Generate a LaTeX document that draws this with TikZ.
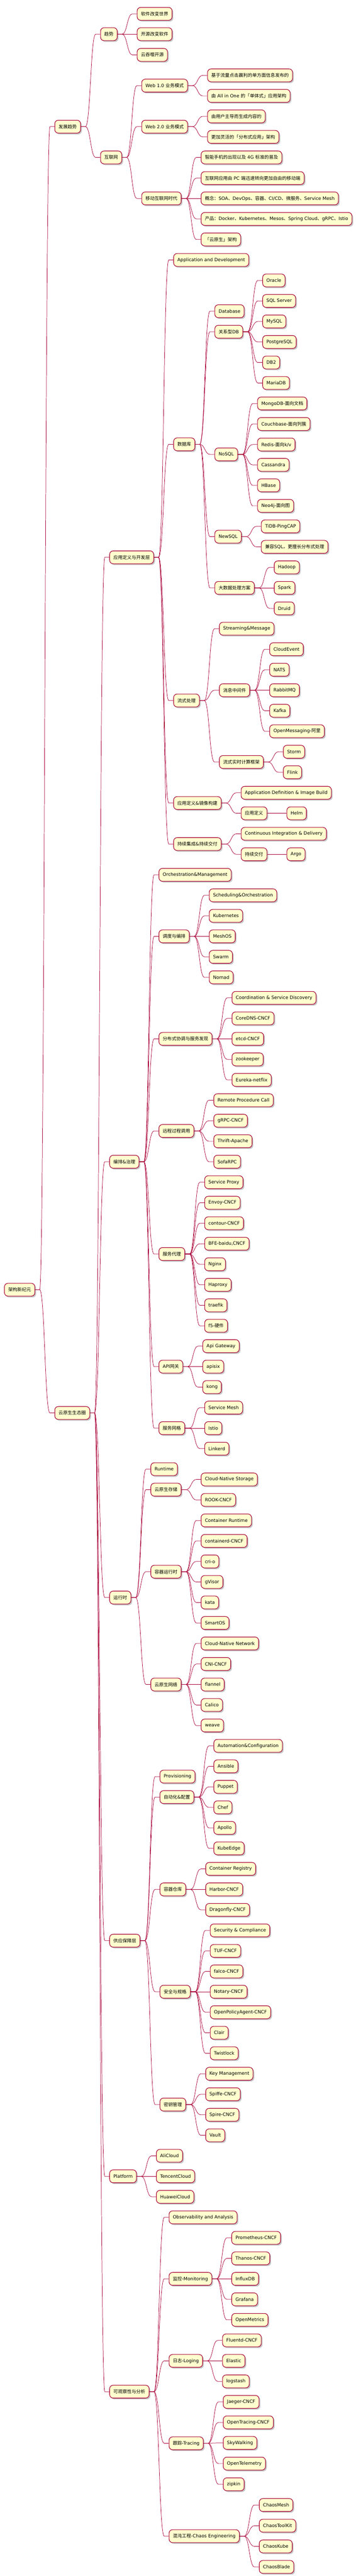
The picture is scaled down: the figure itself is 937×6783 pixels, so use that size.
\documentclass[tikz,border=0pt]{standalone}
\usepackage{fontspec}
\setmainfont{DejaVu Sans}
\newfontfamily\cjk{Noto Sans CJK SC}
\usetikzlibrary{shadows}
\definecolor{nodefill}{RGB}{254,254,206}
\definecolor{hilight}{RGB}{168,0,54}

% switch to the CJK font for Chinese characters and punctuation
\XeTeXinterchartokenstate=1
\chardef\cjkcls=7
\count255="3000
\loop\ifnum\count255<"3040 \XeTeXcharclass\count255=\cjkcls \advance\count255 by 1 \repeat
\count255="4E00
\loop\ifnum\count255<"A000 \XeTeXcharclass\count255=\cjkcls \advance\count255 by 1 \repeat
\count255="FF00
\loop\ifnum\count255<"FFF0 \XeTeXcharclass\count255=\cjkcls \advance\count255 by 1 \repeat
\XeTeXinterchartoks 0 \cjkcls = {\cjk}
\XeTeXinterchartoks 4095 \cjkcls = {\cjk}
\XeTeXinterchartoks \cjkcls 0 = {\rmfamily}
\XeTeXinterchartoks \cjkcls 4095 = {\rmfamily}

% child node: name, parent, row (px from top), text
\newcommand{\mm}[4]{%
  \path (#2.east) ++(38.25pt,0) coordinate (#1-at);
  \node [block, anchor=west] (#1) at (#1-at |- 0,#3) {#4};
  \path [line] (#2.east) -- ++(9pt,0) .. controls +(10.125pt,0) and ([xshift=-19.125pt]#1.west) .. ([xshift=-9pt]#1.west) -- (#1.west);
}

\begin{document}
\begin{tikzpicture}[x=0.75pt, y=-0.75pt]
\tikzstyle{block} = [rectangle, draw=hilight, line width=1.1pt, fill=nodefill, text=black,
    rounded corners=7pt, minimum height=25.5pt, inner xsep=7.5pt, inner ysep=2pt,
    font=\fontsize{9pt}{11pt}\selectfont,
    drop shadow={shadow xshift=2.5pt, shadow yshift=-2.5pt, fill=black, opacity=0.22}]
\tikzstyle{line} = [draw=hilight, line width=0.75pt]
\useasboundingbox (0,0) rectangle (937,6783);

    % root
    \node [block, anchor=west] (root) at (11,3396) {架构新纪元};

    % history
    \mm{dev}{root}{333.5}{发展趋势}
    \mm{trend}{dev}{90}{趋势}
    \mm{trend1}{trend}{36.5}{软件改变世界}
    \mm{trend2}{trend}{90}{开源改变软件}
    \mm{trend3}{trend}{144.5}{云吞噬开源}
    \mm{net}{dev}{414.5}{互联网}
    \mm{web1}{net}{225.5}{Web 1.0 业务模式}
    \mm{web1a}{web1}{198.5}{基于流量点击赢利的单方面信息发布的}
    \mm{web1b}{web1}{252.5}{由 All in One 的「单体式」应用架构}
    \mm{web2}{net}{333.5}{Web 2.0 业务模式}
    \mm{web2a}{web2}{306.5}{由用户主导而生成内容的}
    \mm{web2b}{web2}{360.5}{更加灵活的「分布式应用」架构}
    \mm{mobile}{net}{522.5}{移动互联网时代}
    \mm{mobile1}{mobile}{414.5}{智能手机的出现以及 4G 标准的普及}
    \mm{mobile2}{mobile}{469}{互联网应用由 PC 端迅速转向更加自由的移动端}
    \mm{mobile3}{mobile}{522.5}{概念：SOA、DevOps、容器、CI/CD、微服务、Service Mesh}
    \mm{mobile4}{mobile}{576.5}{产品：Docker、Kubernetes、Mesos、Spring Cloud、gRPC、Istio}
    \mm{mobile5}{mobile}{630.5}{「云原生」架构}

    % ecosystem
    \mm{eco}{root}{3720.5}{云原生生态圈}

    % application layer
    \mm{app}{eco}{1467.5}{应用定义与开发层}
    \mm{apphead}{app}{684.5}{Application and Development}
    \mm{db}{app}{1170}{数据库}
    \mm{dbhead}{db}{819.5}{Database}
    \mm{rdb}{db}{873.5}{关系型DB}
    \mm{rdb1}{rdb}{738.5}{Oracle}
    \mm{rdb2}{rdb}{792.5}{SQL Server}
    \mm{rdb3}{rdb}{846.5}{MySQL}
    \mm{rdb4}{rdb}{900.5}{PostgreSQL}
    \mm{rdb5}{rdb}{954.5}{DB2}
    \mm{rdb6}{rdb}{1008.5}{MariaDB}
    \mm{nosql}{db}{1196.5}{NoSQL}
    \mm{nosql1}{nosql}{1062.5}{MongoDB-面向文档}
    \mm{nosql2}{nosql}{1116.5}{Couchbase-面向列簇}
    \mm{nosql3}{nosql}{1170.5}{Redis-面向k/v}
    \mm{nosql4}{nosql}{1224}{Cassandra}
    \mm{nosql5}{nosql}{1278}{HBase}
    \mm{nosql6}{nosql}{1332}{Neo4j-面向图}
    \mm{newsql}{db}{1413}{NewSQL}
    \mm{newsql1}{newsql}{1386}{TiDB-PingCAP}
    \mm{newsql2}{newsql}{1440}{兼容SQL，更擅长分布式处理}
    \mm{bigdata}{db}{1548}{大数据处理方案}
    \mm{bigdata1}{bigdata}{1494}{Hadoop}
    \mm{bigdata2}{bigdata}{1548}{Spark}
    \mm{bigdata3}{bigdata}{1602}{Druid}
    \mm{stream}{app}{1844.5}{流式处理}
    \mm{streamhead}{stream}{1655.5}{Streaming\&Message}
    \mm{mq}{stream}{1817.5}{消息中间件}
    \mm{mq1}{mq}{1709.5}{CloudEvent}
    \mm{mq2}{mq}{1763.5}{NATS}
    \mm{mq3}{mq}{1817.5}{RabbitMQ}
    \mm{mq4}{mq}{1871.5}{Kafka}
    \mm{mq5}{mq}{1925.5}{OpenMessaging-阿里}
    \mm{calc}{stream}{2006.5}{流式实时计算框架}
    \mm{calc1}{calc}{1979.5}{Storm}
    \mm{calc2}{calc}{2033.5}{Flink}
    \mm{image}{app}{2114.5}{应用定义\&镜像构建}
    \mm{imagehead}{image}{2087.5}{Application Definition \& Image Build}
    \mm{appdef}{image}{2141.5}{应用定义}
    \mm{helm}{appdef}{2141.5}{Helm}
    \mm{cicd}{app}{2222.5}{持续集成\&持续交付}
    \mm{cicdhead}{cicd}{2195.5}{Continuous Integration \& Delivery}
    \mm{cd}{cicd}{2249.5}{持续交付}
    \mm{argo}{cd}{2249.5}{Argo}

    % orchestration layer
    \mm{orch}{eco}{3059}{编排\&治理}
    \mm{orchhead}{orch}{2303.5}{Orchestration\&Management}
    \mm{sched}{orch}{2465.5}{调度与编排}
    \mm{sched1}{sched}{2357.5}{Scheduling\&Orchestration}
    \mm{sched2}{sched}{2411.5}{Kubernetes}
    \mm{sched3}{sched}{2465.5}{MeshOS}
    \mm{sched4}{sched}{2519.5}{Swarm}
    \mm{sched5}{sched}{2573.5}{Nomad}
    \mm{coord}{orch}{2735.5}{分布式协调与服务发现}
    \mm{coord1}{coord}{2627.5}{Coordination \& Service Discovery}
    \mm{coord2}{coord}{2681.5}{CoreDNS-CNCF}
    \mm{coord3}{coord}{2735.5}{etcd-CNCF}
    \mm{coord4}{coord}{2789.5}{zookeeper}
    \mm{coord5}{coord}{2843.5}{Eureka-netflix}
    \mm{rpc}{orch}{2978}{远程过程调用}
    \mm{rpc1}{rpc}{2897}{Remote Procedure Call}
    \mm{rpc2}{rpc}{2951}{gRPC-CNCF}
    \mm{rpc3}{rpc}{3005}{Thrift-Apache}
    \mm{rpc4}{rpc}{3059}{SofaRPC}
    \mm{proxy}{orch}{3302}{服务代理}
    \mm{proxy1}{proxy}{3113}{Service Proxy}
    \mm{proxy2}{proxy}{3167}{Envoy-CNCF}
    \mm{proxy3}{proxy}{3221}{contour-CNCF}
    \mm{proxy4}{proxy}{3275}{BFE-baidu,CNCF}
    \mm{proxy5}{proxy}{3329}{Nginx}
    \mm{proxy6}{proxy}{3383}{Haproxy}
    \mm{proxy7}{proxy}{3437}{traefik}
    \mm{proxy8}{proxy}{3491}{f5-硬件}
    \mm{gw}{orch}{3598.5}{API网关}
    \mm{gw1}{gw}{3544.5}{Api Gateway}
    \mm{gw2}{gw}{3598.5}{apisix}
    \mm{gw3}{gw}{3652.5}{kong}
    \mm{mesh}{orch}{3760.5}{服务网格}
    \mm{mesh1}{mesh}{3706.5}{Service Mesh}
    \mm{mesh2}{mesh}{3760.5}{Istio}
    \mm{mesh3}{mesh}{3814.5}{Linkerd}

    % runtime layer
    \mm{run}{eco}{4206.5}{运行时}
    \mm{runhead}{run}{3868.5}{Runtime}
    \mm{store}{run}{3922.5}{云原生存储}
    \mm{store1}{store}{3895.5}{Cloud-Native Storage}
    \mm{store2}{store}{3949.5}{ROOK-CNCF}
    \mm{ctr}{run}{4138.5}{容器运行时}
    \mm{ctr1}{ctr}{4003.5}{Container Runtime}
    \mm{ctr2}{ctr}{4057.5}{containerd-CNCF}
    \mm{ctr3}{ctr}{4111.5}{cri-o}
    \mm{ctr4}{ctr}{4165.5}{gVisor}
    \mm{ctr5}{ctr}{4219.5}{kata}
    \mm{ctr6}{ctr}{4273.5}{SmartOS}
    \mm{cnet}{run}{4435.5}{云原生网络}
    \mm{cnet1}{cnet}{4327.5}{Cloud-Native Network}
    \mm{cnet2}{cnet}{4381.5}{CNI-CNCF}
    \mm{cnet3}{cnet}{4435.5}{flannel}
    \mm{cnet4}{cnet}{4489.5}{Calico}
    \mm{cnet5}{cnet}{4543.5}{weave}

    % provisioning layer
    \mm{prov}{eco}{5110}{供应保障层}
    \mm{provhead}{prov}{4678}{Provisioning}
    \mm{auto}{prov}{4732}{自动化\&配置}
    \mm{auto1}{auto}{4597}{Automation\&Configuration}
    \mm{auto2}{auto}{4651}{Ansible}
    \mm{auto3}{auto}{4705}{Puppet}
    \mm{auto4}{auto}{4759}{Chef}
    \mm{auto5}{auto}{4813}{Apollo}
    \mm{auto6}{auto}{4867}{KubeEdge}
    \mm{reg}{prov}{4975}{容器仓库}
    \mm{reg1}{reg}{4921}{Container Registry}
    \mm{reg2}{reg}{4975}{Harbor-CNCF}
    \mm{reg3}{reg}{5029}{Dragonfly-CNCF}
    \mm{sec}{prov}{5244.5}{安全与规格}
    \mm{sec1}{sec}{5083}{Security \& Compliance}
    \mm{sec2}{sec}{5137}{TUF-CNCF}
    \mm{sec3}{sec}{5191}{falco-CNCF}
    \mm{sec4}{sec}{5244.5}{Notary-CNCF}
    \mm{sec5}{sec}{5298.5}{OpenPolicyAgent-CNCF}
    \mm{sec6}{sec}{5352.5}{Clair}
    \mm{sec7}{sec}{5406.5}{Twistlock}
    \mm{key}{prov}{5541.5}{密钥管理}
    \mm{key1}{key}{5460.5}{Key Management}
    \mm{key2}{key}{5514.5}{Spiffe-CNCF}
    \mm{key3}{key}{5568.5}{Spire-CNCF}
    \mm{key4}{key}{5622.5}{Vault}

    % platform
    \mm{plat}{eco}{5730.5}{Platform}
    \mm{plat1}{plat}{5676.5}{AliCloud}
    \mm{plat2}{plat}{5730.5}{TencentCloud}
    \mm{plat3}{plat}{5784.5}{HuaweiCloud}

    % observability
    \mm{obs}{eco}{6297.5}{可观察性与分析}
    \mm{obshead}{obs}{5838.5}{Observability and Analysis}
    \mm{mon}{obs}{6000.5}{监控-Monitoring}
    \mm{mon1}{mon}{5892.5}{Prometheus-CNCF}
    \mm{mon2}{mon}{5946.5}{Thanos-CNCF}
    \mm{mon3}{mon}{6000.5}{InfluxDB}
    \mm{mon4}{mon}{6054.5}{Grafana}
    \mm{mon5}{mon}{6108.5}{OpenMetrics}
    \mm{log}{obs}{6216.5}{日志-Loging}
    \mm{log1}{log}{6162.5}{Fluentd-CNCF}
    \mm{log2}{log}{6216.5}{Elastic}
    \mm{log3}{log}{6270.5}{logstash}
    \mm{trace}{obs}{6433.5}{跟踪-Tracing}
    \mm{trace1}{trace}{6324.5}{Jaeger-CNCF}
    \mm{trace2}{trace}{6378.5}{OpenTracing-CNCF}
    \mm{trace3}{trace}{6432.5}{SkyWalking}
    \mm{trace4}{trace}{6487}{OpenTelemetry}
    \mm{trace5}{trace}{6541.5}{zipkin}
    \mm{chaos}{obs}{6678}{混沌工程-Chaos Engineering}
    \mm{chaos1}{chaos}{6596}{ChaosMesh}
    \mm{chaos2}{chaos}{6650.5}{ChaosToolKit}
    \mm{chaos3}{chaos}{6705}{ChaosKube}
    \mm{chaos4}{chaos}{6759}{ChaosBlade}

\end{tikzpicture}
\end{document}
